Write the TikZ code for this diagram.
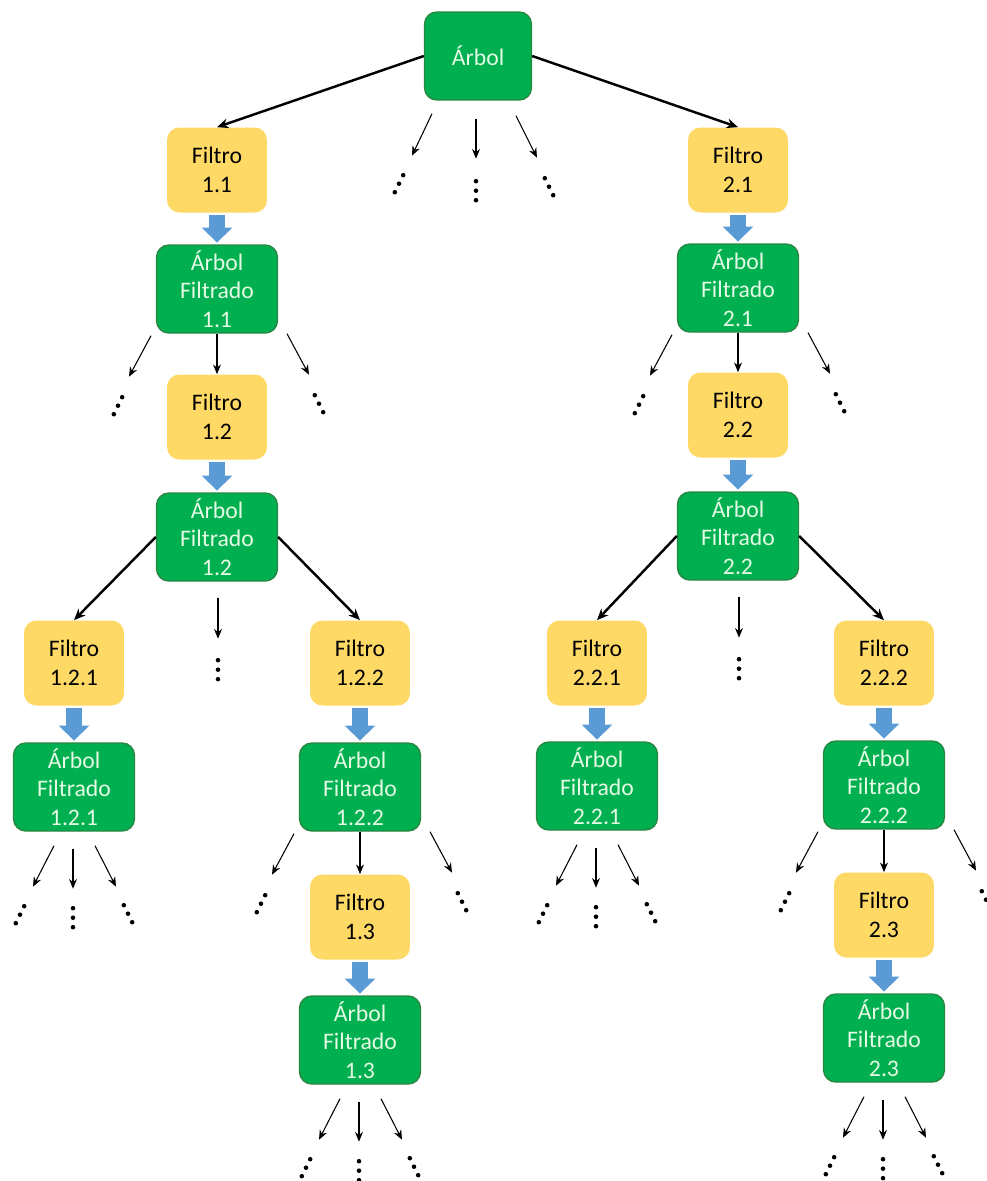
\documentclass[tikz,border=0pt]{standalone}
\usepackage{fontspec}
\setmainfont{Carlito}
\usetikzlibrary{arrows.meta,calc}
\definecolor{verde}{RGB}{0,176,80}
\definecolor{verdeborde}{RGB}{40,135,65}
\definecolor{amarillo}{RGB}{255,217,102}
\definecolor{azul}{RGB}{91,155,213}
\definecolor{textoverde}{RGB}{228,250,228}

\begin{document}
\begin{tikzpicture}[
        x=0.02cm, y=-0.02cm,
        font={\fontsize{13.5}{16.2}\selectfont},
        caja/.style={rounded corners=7pt, align=center, inner sep=0pt},
        arbol/.style={caja, fill=verde, draw=verdeborde, line width=0.8pt, text=textoverde,
            minimum width=2.42cm, minimum height=1.76cm},
        filtro/.style={caja, fill=amarillo, minimum width=2cm, minimum height=1.7cm},
        rama/.style={line width=1.4pt, -{Stealth[length=6.5pt,width=5.5pt]}},
        hoja/.style={line width=0.6pt, -{Stealth[length=5.5pt,width=4.5pt]}},
        flecha/.style={azul, line width=9pt, -{Triangle[length=8.5pt,width=17pt]},
            shorten <=1pt, shorten >=1pt},
        % puntos suspensivos
        puntosv/.pic={\foreach \k in {-1,0,1} \fill (0,9.5*\k) circle (1.3pt);},
        puntosi/.pic={\foreach \k in {-1,0,1} \fill (4.2*\k,-8.5*\k) circle (1.3pt);},
        puntosd/.pic={\foreach \k in {-1,0,1} \fill (4.2*\k,8.5*\k) circle (1.3pt);},
    ]
    \useasboundingbox (0,0) rectangle (987,1181);

    % ---- raíz ----
    \node[arbol, minimum width=2.14cm] (raiz) at (478,56) {Árbol};

    % ---- rama 1 ----
    \node[filtro] (f11)  at (217,170) {Filtro\\1.1};
    \node[arbol]  (af11) at (217,289) {Árbol\\Filtrado\\1.1};
    \node[filtro] (f12)  at (217,417) {Filtro\\1.2};
    \node[arbol]  (af12) at (217,537) {Árbol\\Filtrado\\1.2};
    \node[filtro] (f121)  at (74,663) {Filtro\\1.2.1};
    \node[arbol]  (af121) at (74,787) {Árbol\\Filtrado\\1.2.1};
    \node[filtro] (f122)  at (360,663) {Filtro\\1.2.2};
    \node[arbol]  (af122) at (360,787) {Árbol\\Filtrado\\1.2.2};
    \node[filtro] (f13)  at (360,917) {Filtro\\1.3};
    \node[arbol]  (af13) at (360,1040) {Árbol\\Filtrado\\1.3};

    % ---- rama 2 ----
    \node[filtro] (f21)  at (738,170) {Filtro\\2.1};
    \node[arbol]  (af21) at (738,288) {Árbol\\Filtrado\\2.1};
    \node[filtro] (f22)  at (738,415) {Filtro\\2.2};
    \node[arbol]  (af22) at (738,536) {Árbol\\Filtrado\\2.2};
    \node[filtro] (f221)  at (597,663) {Filtro\\2.2.1};
    \node[arbol]  (af221) at (597,786) {Árbol\\Filtrado\\2.2.1};
    \node[filtro] (f222)  at (884,663) {Filtro\\2.2.2};
    \node[arbol]  (af222) at (884,785) {Árbol\\Filtrado\\2.2.2};
    \node[filtro] (f23)  at (884,915) {Filtro\\2.3};
    \node[arbol]  (af23) at (884,1038) {Árbol\\Filtrado\\2.3};

    % ---- ramas gruesas ----
    \draw[rama] (raiz.west) -- (f11.north);
    \draw[rama] (raiz.east) -- (f21.north);
    \draw[rama] (af12.west) -- (f121.north);
    \draw[rama] (af12.east) -- (f122.north);
    \draw[rama] (af22.west) -- (f221.north);
    \draw[rama] (af22.east) -- (f222.north);

    % ---- filtro -> árbol filtrado ----
    \foreach \a/\b in {f11/af11, f12/af12, f121/af121, f122/af122, f13/af13,
                       f21/af21, f22/af22, f221/af221, f222/af222, f23/af23}
        \draw[flecha] (\a) -- (\b);

    % ---- árbol filtrado -> siguiente filtro ----
    \draw[hoja] (af11.south) -- (f12.north);
    \draw[hoja] (af122.south) -- (f13.north);
    \draw[hoja] (af21.south) -- (f22.north);
    \draw[hoja] (af222.south) -- (f23.north);

    % ---- hojas de la raíz ----
    \path (raiz.south) ++(-66,55) coordinate (raiz-i)
          (raiz.south) ++(-2,58) coordinate (raiz-c)
          (raiz.south) ++(59,57) coordinate (raiz-d);
    \draw[hoja] (raiz.south) ++(-46,13) -- (raiz-i);
    \draw[hoja] (raiz.south) ++(-2,18) -- (raiz-c);
    \draw[hoja] (raiz.south) ++(38,15) -- (raiz-d);
    \path (raiz.south) ++(-79,83) pic {puntosi};
    \path (raiz.south) ++(-2,90) pic {puntosv};
    \path (raiz.south) ++(71,86) pic {puntosd};

    % ---- tres hojas bajo los árboles finales ----
    \foreach \n in {af121,af221,af13,af23}{
        \path (\n.south) ++(-41,55) coordinate (\n-i)
              (\n.south) ++(-1,57) coordinate (\n-c)
              (\n.south) ++(42,55) coordinate (\n-d);
        \draw[hoja] (\n.south) ++(-20,14) -- (\n-i);
        \draw[hoja] (\n.south) ++(-1,17) -- (\n-c);
        \draw[hoja] (\n.south) ++(21,14) -- (\n-d);
        \path (\n.south) ++(-54,83) pic {puntosi};
        \path (\n.south) ++(-1,86) pic {puntosv};
        \path (\n.south) ++(54,82) pic {puntosd};
    }

    % ---- hojas laterales ----
    \foreach \n in {af11,af21,af122,af222}{
        \path (\n.south) ++(-88,43) coordinate (\n-i)
              (\n.south) ++(92,41) coordinate (\n-d);
        \draw[hoja] (\n.south) ++(-66,2) -- (\n-i);
        \draw[hoja] (\n.south) ++(70,0) -- (\n-d);
        \path (\n.south) ++(-99,72) pic {puntosi};
        \path (\n.south) ++(102,70) pic {puntosd};
    }

    % ---- hoja central ----
    \foreach \n in {af12,af22}{
        \path (\n.south) ++(1,57) coordinate (\n-c);
        \draw[hoja] (\n.south) ++(1,16) -- (\n-c);
        \path (\n.south) ++(1,88) pic {puntosv};
    }

\end{tikzpicture}
\end{document}
